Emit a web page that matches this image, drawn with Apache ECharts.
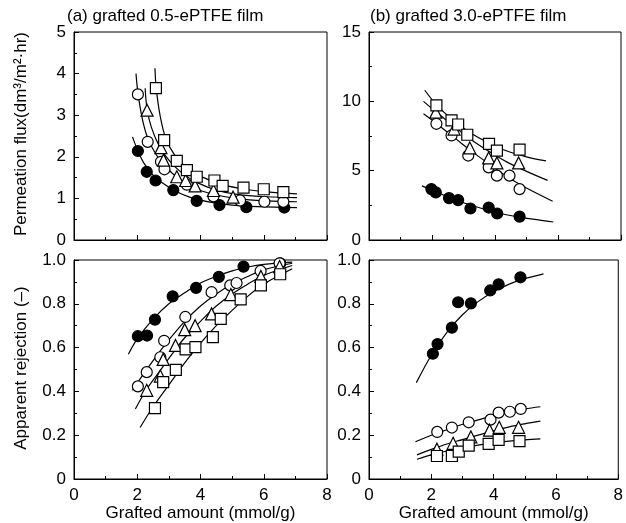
<!DOCTYPE html>
<html>
<head>
<meta charset="utf-8">
<script src="https://cdn.jsdelivr.net/npm/echarts@6/dist/echarts.min.js"></script>
<style>html,body{margin:0;padding:0;background:#fff}#c{width:626px;height:523px}</style>
</head>
<body>
<div id="c"></div>
<script>
// ---------- data (x: grafted amount mmol/g) ----------
// (a) 0.5-ePTFE : permeation flux
const fluxA_filled   = [[2.02,2.14],[2.30,1.64],[2.58,1.43],[3.14,1.20],[3.88,0.94],[4.60,0.84],[5.45,0.79],[6.65,0.78]];
const fluxA_circle   = [[2.02,3.50],[2.33,2.36],[2.75,1.88],[2.86,1.70],[3.57,1.33],[4.41,1.05],[5.25,0.95],[6.02,0.92],[6.62,0.92]];
const fluxA_triangle = [[2.31,3.12],[2.75,2.22],[2.83,1.92],[3.25,1.52],[3.53,1.43],[3.83,1.30],[4.41,1.19],[5.03,1.03]];
const fluxA_square   = [[2.59,3.65],[2.85,2.40],[3.25,1.90],[3.57,1.68],[3.88,1.52],[4.44,1.43],[4.70,1.30],[5.36,1.26],[6.00,1.22],[6.62,1.15]];
const fitFluxA_filled   = [[1.85,2.48],[2.00,2.18],[2.20,1.86],[2.50,1.56],[2.80,1.37],[3.20,1.18],[3.70,1.02],[4.30,0.91],[5.00,0.84],[5.80,0.80],[7.05,0.78]];
const fitFluxA_circle   = [[1.96,4.00],[2.02,3.55],[2.15,2.95],[2.33,2.45],[2.60,2.05],[2.90,1.76],[3.30,1.48],[3.80,1.25],[4.40,1.10],[5.20,0.99],[6.10,0.94],[7.05,0.92]];
const fitFluxA_triangle = [[2.25,3.65],[2.31,3.15],[2.45,2.70],[2.70,2.25],[3.00,1.92],[3.40,1.62],[3.90,1.38],[4.50,1.20],[5.20,1.09],[6.10,1.04],[7.05,1.02]];
const fitFluxA_square   = [[2.56,4.13],[2.60,3.65],[2.72,3.00],[2.90,2.45],[3.20,2.02],[3.60,1.72],[4.10,1.50],[4.70,1.33],[5.40,1.22],[6.20,1.15],[7.05,1.11]];

// (b) 3.0-ePTFE : permeation flux
const fluxB_filled   = [[1.98,3.67],[2.12,3.43],[2.54,3.02],[2.83,2.88],[3.22,2.27],[3.80,2.34],[4.07,1.91],[4.78,1.69]];
const fluxB_circle   = [[2.14,8.38],[2.62,7.54],[3.15,6.09],[3.80,5.24],[4.06,4.64],[4.46,4.64],[4.78,3.67]];
const fluxB_triangle = [[2.12,9.22],[2.70,8.00],[3.20,6.64],[3.80,5.92],[4.06,5.56],[4.75,5.56]];
const fluxB_square   = [[2.14,9.71],[2.62,8.62],[2.83,8.33],[3.12,7.59],[3.81,6.93],[4.06,6.45],[4.78,6.52]];
const fitFluxB_filled   = [[1.68,3.90],[2.20,3.40],[2.80,2.85],[3.40,2.40],[4.00,2.00],[4.60,1.72],[5.20,1.50],[5.85,1.30]];
const fitFluxB_circle   = [[1.73,9.10],[2.20,8.30],[2.70,7.40],[3.20,6.50],[3.80,5.50],[4.40,4.55],[5.00,3.75],[5.83,2.80]];
const fitFluxB_triangle = [[1.73,10.0],[2.20,9.10],[2.70,8.20],[3.20,7.30],[3.80,6.40],[4.40,5.60],[5.00,4.95],[5.67,4.30]];
const fitFluxB_square   = [[1.77,10.8],[2.20,9.60],[2.70,8.60],[3.20,7.75],[3.80,7.00],[4.40,6.40],[5.00,6.00],[5.62,5.70]];

// (a) apparent rejection
const rejA_filled   = [[2.02,0.652],[2.31,0.655],[2.56,0.728],[3.12,0.834],[3.86,0.873],[4.58,0.923],[5.36,0.970],[6.52,0.985]];
const rejA_circle   = [[2.02,0.423],[2.30,0.488],[2.73,0.556],[2.85,0.631],[3.52,0.740],[4.35,0.853],[4.94,0.884],[5.14,0.895],[5.90,0.950],[6.50,0.985]];
const rejA_triangle = [[2.30,0.405],[2.73,0.470],[2.82,0.546],[3.21,0.610],[3.50,0.682],[3.83,0.700],[4.35,0.754],[4.96,0.842],[5.91,0.925],[6.50,0.970]];
const rejA_square   = [[2.56,0.324],[2.82,0.442],[3.22,0.498],[3.53,0.592],[3.84,0.602],[4.39,0.648],[4.64,0.731],[5.27,0.820],[5.91,0.884],[6.52,0.935]];
const fitRejA_filled   = [[1.72,0.57],[2.00,0.64],[2.50,0.73],[3.00,0.80],[3.50,0.85],[4.00,0.895],[4.50,0.925],[5.00,0.95],[5.50,0.968],[6.00,0.98],[6.90,0.99]];
const fitRejA_circle   = [[1.85,0.405],[2.20,0.48],[2.60,0.56],[3.00,0.635],[3.50,0.72],[4.00,0.79],[4.50,0.845],[5.00,0.89],[5.50,0.925],[6.00,0.955],[6.90,0.985]];
const fitRejA_triangle = [[1.94,0.32],[2.30,0.41],[2.70,0.49],[3.10,0.57],[3.50,0.645],[4.00,0.72],[4.50,0.79],[5.00,0.845],[5.50,0.89],[6.00,0.93],[6.90,0.975]];
const fitRejA_square   = [[2.09,0.235],[2.50,0.33],[3.00,0.43],[3.50,0.53],[4.00,0.62],[4.50,0.70],[5.00,0.77],[5.50,0.835],[6.00,0.89],[6.50,0.93],[6.90,0.96]];

// (b) apparent rejection
const rejB_filled   = [[2.05,0.572],[2.20,0.616],[2.66,0.691],[2.86,0.807],[3.27,0.802],[3.89,0.861],[4.16,0.889],[4.86,0.921]];
const rejB_circle   = [[2.19,0.215],[2.66,0.235],[3.20,0.259],[3.90,0.271],[4.16,0.303],[4.52,0.307],[4.87,0.320]];
const rejB_triangle = [[2.18,0.136],[2.70,0.163],[3.27,0.192],[3.87,0.223],[4.18,0.236],[4.80,0.236]];
const rejB_square   = [[2.18,0.105],[2.66,0.105],[2.88,0.125],[3.20,0.152],[3.84,0.160],[4.16,0.179],[4.83,0.173]];
const fitRejB_filled   = [[1.52,0.44],[2.00,0.565],[2.50,0.67],[3.00,0.75],[3.50,0.81],[4.00,0.855],[4.50,0.89],[5.00,0.915],[5.60,0.937]];
const fitRejB_circle   = [[1.49,0.17],[2.00,0.20],[2.50,0.225],[3.00,0.25],[3.50,0.27],[4.00,0.29],[4.50,0.305],[5.00,0.32],[5.50,0.33]];
const fitRejB_triangle = [[1.54,0.11],[2.00,0.135],[2.50,0.16],[3.00,0.18],[3.50,0.20],[4.00,0.22],[4.50,0.238],[5.00,0.252],[5.50,0.264]];
const fitRejB_square   = [[1.54,0.09],[2.00,0.11],[2.50,0.128],[3.00,0.143],[3.50,0.155],[4.00,0.165],[4.50,0.173],[5.00,0.179],[5.50,0.183]];

const panelTitles = ['(a) grafted 0.5-ePTFE film', '(b) grafted 3.0-ePTFE film'];
const yNameTop = 'Permeation flux(dm\u00B3/m\u00B2\u00B7hr)';
const yNameBottom = 'Apparent rejection (\u2013)';
const xName = 'Grafted amount (mmol/g)';

// ---------- chart ----------
const FONT = 'Liberation Sans, Arial, Helvetica, sans-serif';
const FS = 17;
const grids = [
  {left: 74,  top: 32,  width: 253, height: 208},
  {left: 369, top: 32,  width: 252, height: 208},
  {left: 74,  top: 260, width: 253, height: 220},
  {left: 369, top: 260, width: 252, height: 220}
].map(g => Object.assign(g, {show: true, borderColor: '#000', borderWidth: 1, backgroundColor: 'transparent', containLabel: false}));

function xAxis(i) {
  const bottom = i >= 2;
  return {
    type: 'value', gridIndex: i, min: 0, max: 8, interval: 2,
    axisLine: {show: true, lineStyle: {color: '#000', width: 1}},
    axisTick: {show: true, inside: true, length: 5, lineStyle: {color: '#000'}},
    minorTick: {show: true, splitNumber: 2, length: 3, lineStyle: {color: '#000'}},
    splitLine: {show: false}, minorSplitLine: {show: false},
    axisLabel: {show: bottom, color: '#000', fontSize: FS, fontFamily: FONT, margin: 8},
    name: bottom ? xName : '', nameLocation: 'middle', nameGap: 26,
    nameTextStyle: {color: '#000', fontSize: FS, fontFamily: FONT, verticalAlign: 'top'}
  };
}
function yAxis(i, max, interval, fmt) {
  return {
    type: 'value', gridIndex: i, min: 0, max: max, interval: interval,
    axisLine: {show: true, lineStyle: {color: '#000', width: 1}},
    axisTick: {show: true, inside: true, length: 5, lineStyle: {color: '#000'}},
    minorTick: {show: true, splitNumber: 2, length: 3, lineStyle: {color: '#000'}},
    splitLine: {show: false}, minorSplitLine: {show: false},
    axisLabel: {color: '#000', fontSize: FS, fontFamily: FONT, margin: 8, formatter: fmt}
  };
}
const fmtInt = v => String(Math.round(v));
const fmtDec = v => v === 0 ? '0' : v.toFixed(1);

function marks(i, data, kind) {
  const sym = (kind === 'filled' || kind === 'circle') ? 'circle' : (kind === 'triangle' ? 'triangle' : 'rect');
  const size = kind === 'triangle' ? 12 : 11;
  return {
    type: 'scatter', xAxisIndex: i, yAxisIndex: i, data: data, symbol: sym, symbolSize: size,
    itemStyle: {color: kind === 'filled' ? '#000' : '#fff', borderColor: '#000', borderWidth: 1.2, opacity: 1},
    z: 4, silent: true
  };
}
function fit(i, data) {
  return {
    type: 'line', xAxisIndex: i, yAxisIndex: i, data: data, smooth: 0.35, showSymbol: false,
    lineStyle: {color: '#000', width: 1.2}, z: 2, silent: true
  };
}

const panels = [
  [fluxA_filled, fluxA_circle, fluxA_triangle, fluxA_square, fitFluxA_filled, fitFluxA_circle, fitFluxA_triangle, fitFluxA_square],
  [fluxB_filled, fluxB_circle, fluxB_triangle, fluxB_square, fitFluxB_filled, fitFluxB_circle, fitFluxB_triangle, fitFluxB_square],
  [rejA_filled, rejA_circle, rejA_triangle, rejA_square, fitRejA_filled, fitRejA_circle, fitRejA_triangle, fitRejA_square],
  [rejB_filled, rejB_circle, rejB_triangle, rejB_square, fitRejB_filled, fitRejB_circle, fitRejB_triangle, fitRejB_square]
];
const series = [];
panels.forEach((p, i) => {
  for (let k = 4; k < 8; k++) series.push(fit(i, p[k]));
  series.push(marks(i, p[0], 'filled'));
  series.push(marks(i, p[1], 'circle'));
  series.push(marks(i, p[2], 'triangle'));
  series.push(marks(i, p[3], 'square'));
});

const textStyle = {fill: '#000', fontSize: FS, fontFamily: FONT};
const option = {
  animation: false,
  backgroundColor: '#fff',
  grid: grids,
  xAxis: [0, 1, 2, 3].map(xAxis),
  yAxis: [yAxis(0, 5, 1, fmtInt), yAxis(1, 15, 5, fmtInt), yAxis(2, 1, 0.2, fmtDec), yAxis(3, 1, 0.2, fmtDec)],
  series: series,
  graphic: [
    {type: 'text', left: 67, top: 8, style: Object.assign({text: panelTitles[0]}, textStyle)},
    {type: 'text', left: 370, top: 8, style: Object.assign({text: panelTitles[1]}, textStyle)},
    {type: 'text', x: 21, y: 134, rotation: Math.PI / 2,
      style: Object.assign({text: yNameTop, textAlign: 'center', textVerticalAlign: 'middle'}, textStyle)},
    {type: 'text', x: 21, y: 368, rotation: Math.PI / 2,
      style: Object.assign({text: yNameBottom, textAlign: 'center', textVerticalAlign: 'middle'}, textStyle)}
  ]
};
const chart = echarts.init(document.getElementById('c'), null, {renderer: 'canvas'});
chart.setOption(option);
</script>
</body>
</html>
